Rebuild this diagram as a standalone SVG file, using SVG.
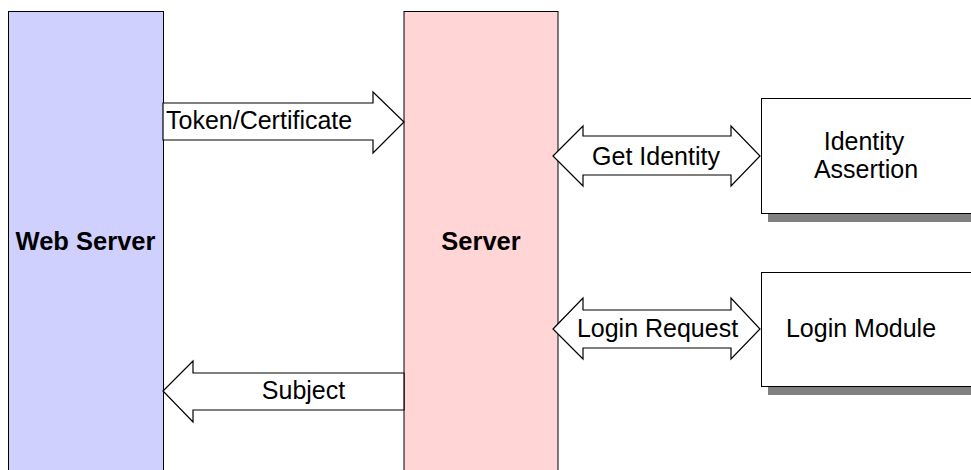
<svg xmlns="http://www.w3.org/2000/svg" width="971" height="470" viewBox="0 0 971 470">
<style>
text{font-family:"Liberation Sans",Arial,sans-serif;font-size:25px;fill:#000}
.b{font-weight:bold;font-size:25.5px;text-anchor:middle}
.c{text-anchor:middle}
.node{stroke:#000;stroke-width:1}
.shadow{fill:#808080;stroke:none}
.arrow{fill:#fff;stroke:#000;stroke-width:1.2;stroke-linejoin:miter}
</style>
<rect width="971" height="470" fill="#fff"/>
<g id="web-server">
<rect class="node" x="8.5" y="11.5" width="155" height="470" fill="#d0d0ff"/>
<text class="b" x="85.5" y="250">Web Server</text>
</g>
<g id="server">
<rect class="node" x="404" y="11.5" width="154" height="470" fill="#ffd5d5"/>
<text class="b" x="481" y="250">Server</text>
</g>
<g id="identity-assertion">
<rect class="shadow" x="768" y="106" width="215" height="116"/>
<rect class="node" x="761.5" y="98.5" width="215" height="115" fill="#fff"/>
<text class="c" x="864" y="150">Identity</text>
<text class="c" x="866" y="178">Assertion</text>
</g>
<g id="login-module">
<rect class="shadow" x="768" y="280" width="215" height="115"/>
<rect class="node" x="761.5" y="272.5" width="215" height="114" fill="#fff"/>
<text class="c" x="861" y="337">Login Module</text>
</g>
<g id="connectors">
<polygon class="arrow" points="163,103 373,103 373,92 404,122 373,153 373,140 163,140"/>
<text x="166" y="129">Token/Certificate</text>
<polygon class="arrow" points="553,156 583,126 583,136 731,136 731,126 760,156 731,186 731,175 583,175 583,186"/>
<text class="c" x="656" y="165">Get Identity</text>
<polygon class="arrow" points="553,329 583,298 583,310 731,310 731,298 760,329 731,359 731,348 583,348 583,359"/>
<text class="c" x="657.5" y="337">Login Request</text>
<polygon class="arrow" points="404,373 193,373 193,361 163,391 193,422 193,410 404,410"/>
<text class="c" x="303.5" y="399">Subject</text>
</g>
</svg>
